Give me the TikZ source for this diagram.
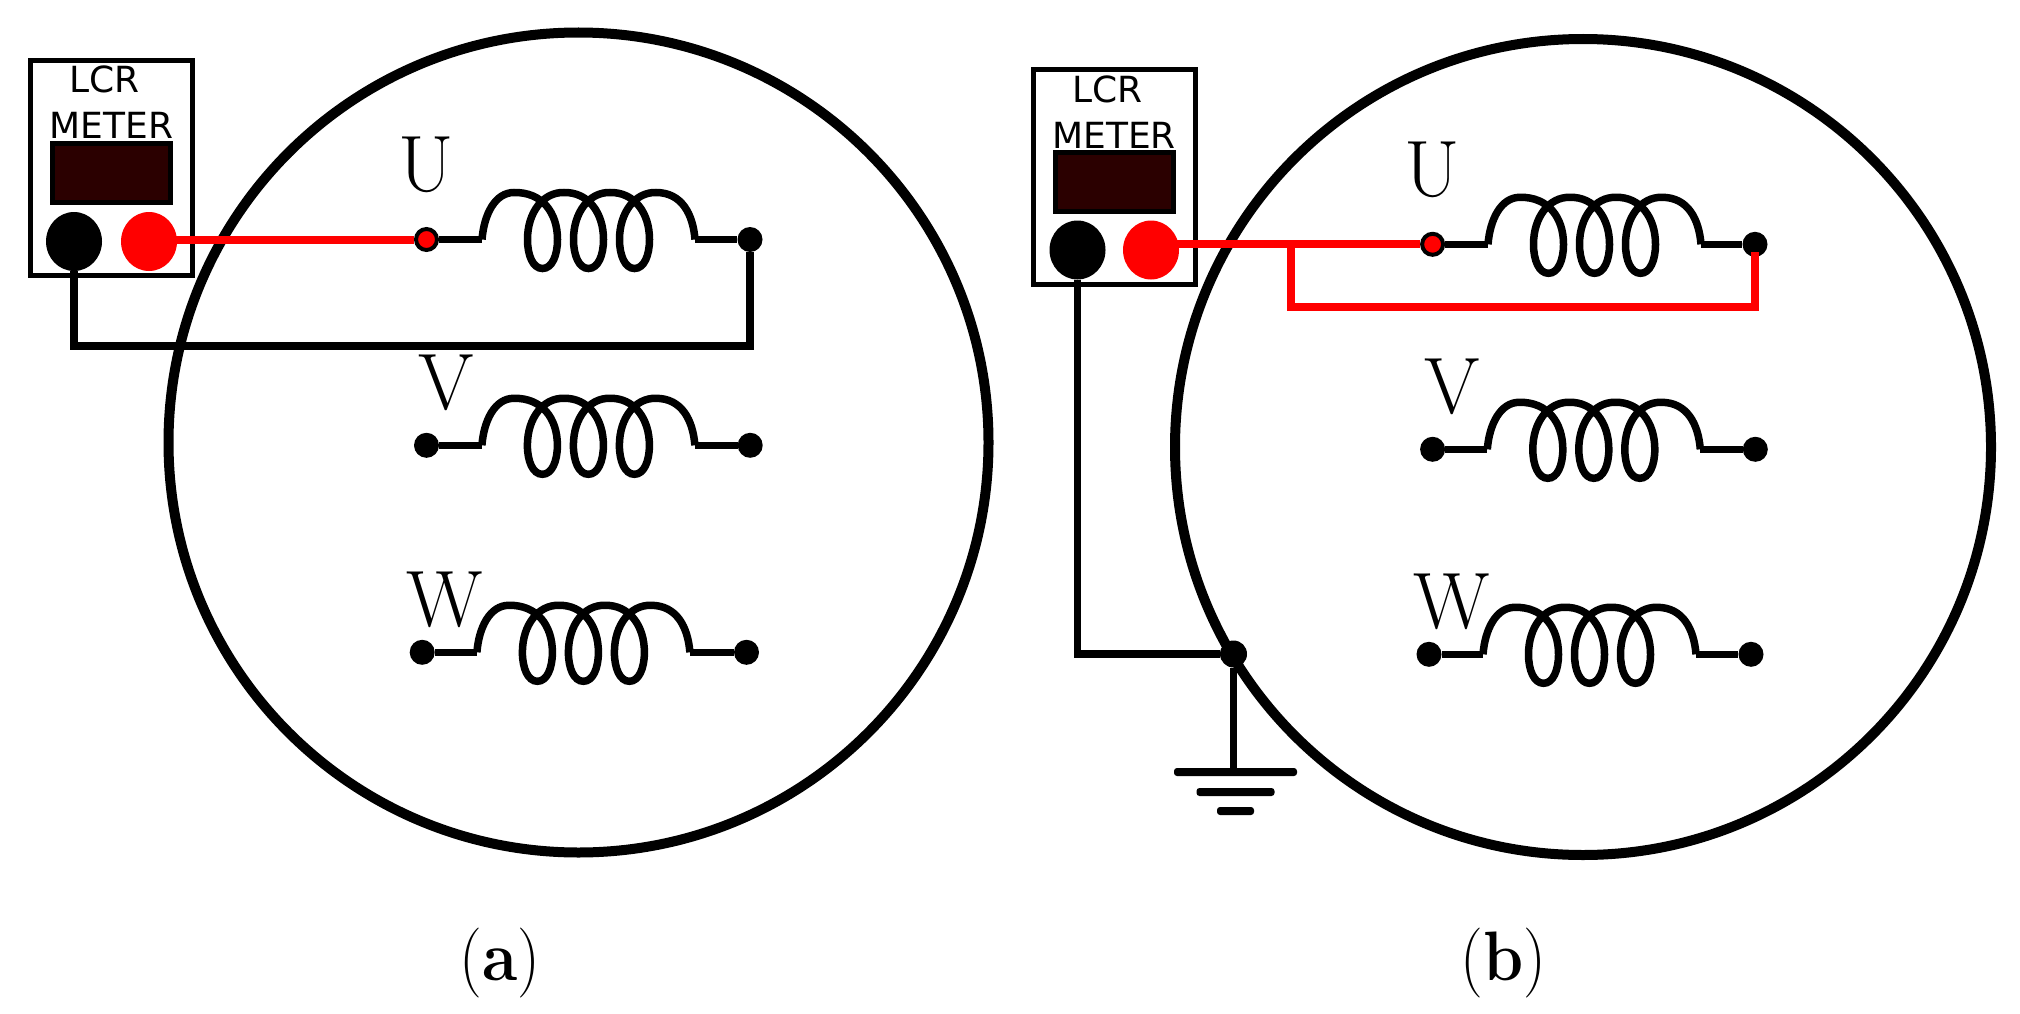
\documentclass[tikz,border=0pt]{standalone}
\usepackage{fontspec}
\newfontfamily\meterfont{DejaVu Sans}
\usetikzlibrary{positioning,shapes.geometric}

\tikzset{
    coil/.pic={
        \coordinate (-in) at (0,0);
        \coordinate (-out) at (213,0);
        \draw[wire] (0,0) .. controls (2,-25) and (13,-47) .. (32,-47)
            \foreach \d in {0,46,92} {
                .. controls (\d+60,-47.5) and (\d+75.5,-27) .. (\d+75.5,0)
                .. controls (\d+75.5,16) and (\d+70,29) .. (\d+60.5,29)
                .. controls (\d+51,29) and (\d+45.5,16) .. (\d+45.5,0)
                .. controls (\d+45.5,-27) and (\d+61,-47.5) .. (\d+82,-47)
            }
            .. controls (200,-47) and (211,-25) .. (213,0);
    }
}

\begin{document}
\begin{tikzpicture}[x=1pt,y=-1pt,on grid,
    wire/.style={draw=black,line width=7.5pt},
    red wire/.style={draw=red,line width=8pt},
    motor/.style={circle,draw=black,line width=10pt,inner sep=0pt,minimum size=#1},
    meter/.style={
        rectangle,
        draw=black,
        line width=5pt,
        fill=white,
        minimum width=162pt, minimum height=214pt},
    meter text/.style={inner sep=0pt,font=\meterfont\fontsize{36}{36}\selectfont},
    display/.style={
        rectangle,
        draw=black,
        line width=5pt,
        fill=screen,
        minimum width=118pt, minimum height=59pt},
    jack/.style={ellipse,inner sep=0pt,minimum width=56pt,minimum height=59pt,fill=#1},
    dot/.style={circle,inner sep=0pt,minimum size=25pt,fill=black},
    red dot/.style={circle,inner sep=0pt,minimum size=21pt,draw=black,line width=4pt,fill=red},
    phase/.style={inner sep=0pt,font=\fontsize{80}{80}\selectfont},
    panel/.style={inner sep=0pt,xscale=.92,font=\fontsize{70}{70}\selectfont},
    earth/.style={rectangle,rounded corners=3pt,inner sep=0pt,fill=black,minimum width=#1,minimum height=8pt}]

    \definecolor{screen}{HTML}{2B0000}
    \useasboundingbox (0,0) rectangle (2020,1014);

    % left panel
    \node (motor_a) [motor=820pt] at (578.5,442.5) {};

    \node (meter_a) [meter] at (111.5,168) {};
    \node (lcr_a) [meter text, above left=88.5pt and 7pt of meter_a] {LCR};
    \node (met_a) [meter text, above=42.5pt of meter_a] {METER};
    \node (disp_a) [display, below=5pt of meter_a] {};
    \node (blk_a) [jack=black, below left=73.5pt and 37.5pt of meter_a] {};
    \node (red_a) [jack=red, right=75pt of blk_a] {};

    \node (u_a) [red dot] at (426.5,239.5) {};
    \node (v_a) [dot, below=205.8pt of u_a] {};
    \node (w_a) [dot, below left=207pt and 4.3pt of v_a] {};
    \node (ur_a) [dot, right=323.5pt of u_a] {};
    \node (vr_a) [dot, right=323.7pt of v_a] {};
    \node (wr_a) [dot, right=324.3pt of w_a] {};

    \node (ulab_a) [phase, above=75pt of u_a] {U};
    \node (vlab_a) [phase, above right=62pt and 20pt of v_a] {V};
    \node (wlab_a) [phase, above right=52.6pt and 22.5pt of w_a] {W};

    \pic (coil_ua) at ([xshift=55.5pt]u_a.center) {coil};
    \pic (coil_va) at ([xshift=55.4pt]v_a.center) {coil};
    \pic (coil_wa) at ([xshift=54.7pt]w_a.center) {coil};

    \draw[wire] (u_a) -- (coil_ua-in);
    \draw[wire] (coil_ua-out) -- (ur_a);
    \draw[wire] (v_a) -- (coil_va-in);
    \draw[wire] (coil_va-out) -- (vr_a);
    \draw[wire] (w_a) -- (coil_wa-in);
    \draw[wire] (coil_wa-out) -- (wr_a);

    \coordinate (low_a) at (400,346);
    \draw[wire] (blk_a.south) |- (low_a) -| (ur_a.south);
    \draw[red wire] (red_a |- u_a) -- (u_a);

    \node (cap_a) [panel] at (500,963) {(\textbf{a})};

    % right panel
    \node (motor_b) [motor=816pt] at (1583,447) {};

    \node (meter_b) [meter] at (1114,177) {};
    \node (lcr_b) [meter text, above left=88pt and 6.5pt of meter_b] {LCR};
    \node (met_b) [meter text, above=42pt of meter_b] {METER};
    \node (disp_b) [display, below=5pt of meter_b] {};
    \node (blk_b) [jack=black, below left=73pt and 36.5pt of meter_b] {};
    \node (red_b) [jack=red, right=73.5pt of blk_b] {};

    \node (u_b) [red dot] at (1432.6,244.3) {};
    \node (v_b) [dot, below=205pt of u_b] {};
    \node (w_b) [dot, below left=205pt and 3.6pt of v_b] {};
    \node (ur_b) [dot, right=322.4pt of u_b] {};
    \node (vr_b) [dot, right=322.7pt of v_b] {};
    \node (wr_b) [dot, right=322pt of w_b] {};

    \node (ulab_b) [phase, above=74pt of u_b] {U};
    \node (vlab_b) [phase, above right=62pt and 20pt of v_b] {V};
    \node (wlab_b) [phase, above right=52.3pt and 22.3pt of w_b] {W};

    \pic (coil_ub) at ([xshift=55.4pt]u_b.center) {coil};
    \pic (coil_vb) at ([xshift=54.7pt]v_b.center) {coil};
    \pic (coil_wb) at ([xshift=54pt]w_b.center) {coil};

    \draw[wire] (u_b) -- (coil_ub-in);
    \draw[wire] (coil_ub-out) -- (ur_b);
    \draw[wire] (v_b) -- (coil_vb-in);
    \draw[wire] (coil_vb-out) -- (vr_b);
    \draw[wire] (w_b) -- (coil_wb-in);
    \draw[wire] (coil_wb-out) -- (wr_b);

    % ground
    \node (gnd_dot) [dot, minimum size=27pt] at (1233.5,654) {};
    \node (gnd1) [earth=123pt, below right=118pt and 2pt of gnd_dot] {};
    \node (gnd2) [earth=78pt, below=20pt of gnd1] {};
    \node (gnd3) [earth=37pt, below=19pt of gnd2] {};
    \draw[wire] (blk_b.south) |- (gnd_dot.west);
    \draw[wire] (gnd_dot) -- (gnd_dot |- gnd1.north);

    % short across the U winding
    \coordinate (tap_b) at (1291,245);
    \coordinate (low_b) at (1500,307);
    \draw[red wire] (red_b |- u_b) -- (u_b);
    \draw[red wire, shorten >=8pt] (tap_b) |- (low_b) -| (ur_b.center);

    \node (cap_b) [panel] at (1503.5,963) {(\textbf{b})};
\end{tikzpicture}
\end{document}
